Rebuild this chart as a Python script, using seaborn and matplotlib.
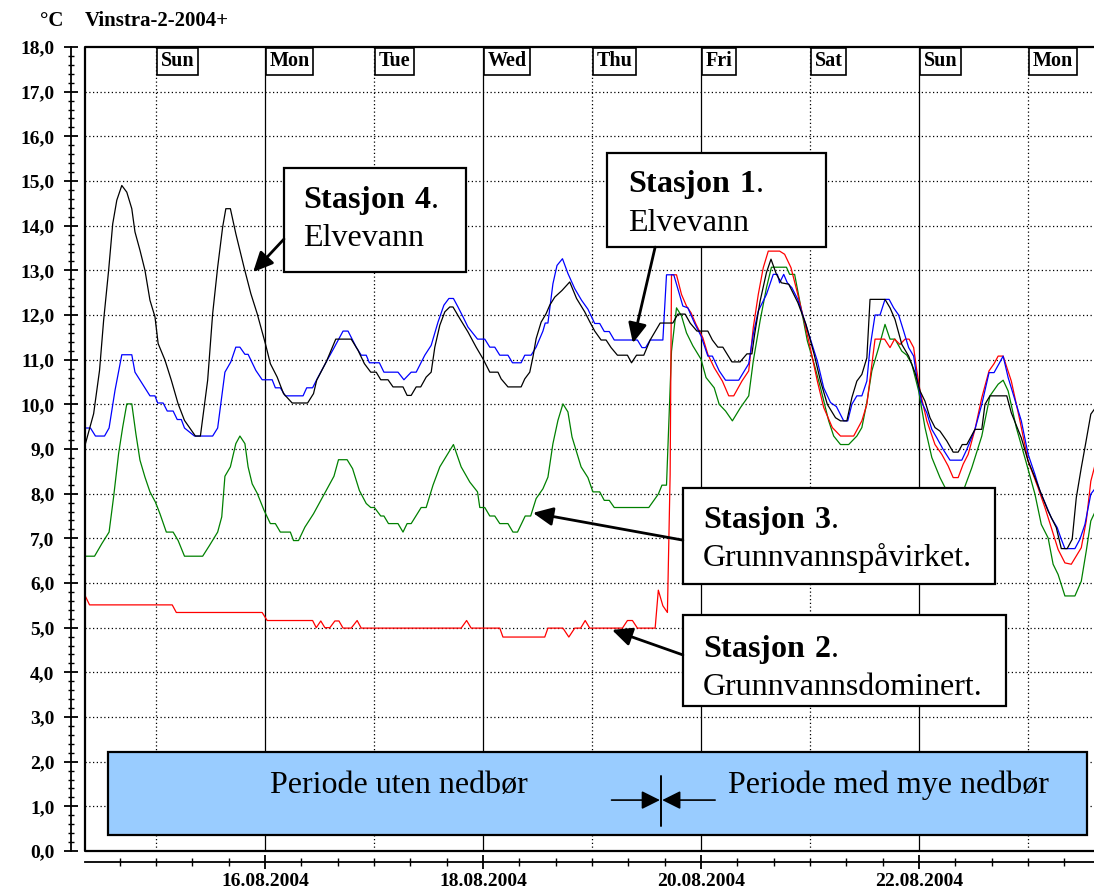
import numpy as np
import pandas as pd
import matplotlib
matplotlib.use("Agg")
import matplotlib.pyplot as plt
import matplotlib.dates as mdates
from matplotlib.ticker import MultipleLocator, FuncFormatter
from matplotlib.patches import Rectangle
import seaborn as sns

# ---------------- data (hours after 14.08.2004 00:00, temperature in degC) -------------
t_st4 = [8.5, 10.3, 11.6, 12.5, 13.6, 14.5, 15.4, 16.5, 17.6, 18.7, 19.4, 20.5, 21.6, 22.7, 23.8,
         24.5, 26.0, 27.4, 28.9, 30.3, 31.8, 32.7, 33.8, 35.4, 36.5, 37.6, 38.7, 39.4, 40.4, 41.6,
         43.4, 44.9, 46.3, 48.1, 49.2, 50.7, 52.1, 54.0, 57.4, 58.7, 59.4, 61.5, 63.6, 67.0, 68.5,
         69.9, 71.3, 72.5, 73.5, 75.1, 76.2, 78.4, 79.3, 80.2, 81.3, 82.3, 83.5, 84.6, 85.4, 86.5,
         87.6, 88.7, 89.4, 90.9, 92.7, 94.5, 96.0, 97.5, 99.3, 100.0, 101.5, 104.4, 105.2, 106.3,
         107.0, 107.7, 108.8, 109.9, 110.7, 111.8, 113.4, 115.1, 116.6, 118.4, 119.5, 120.6, 122.0,
         123.1, 124.2, 125.6, 127.8, 128.7, 129.8, 131.4, 132.8, 135.0, 137.8, 138.9, 140.5, 141.6,
         143.1, 145.5, 146.5, 147.7, 148.8, 150.8, 152.6, 154.1, 155.2, 155.8, 157.0, 158.4, 159.4,
         160.6, 161.7, 163.3, 165.3, 167.1, 168.9, 170.3, 171.8, 173.6, 174.7, 176.1, 177.2, 178.3,
         179.4, 180.5, 181.2, 184.5, 185.6, 186.7, 188.2, 189.7, 191.1, 192.2, 193.3, 194.4, 195.5,
         196.6, 198.1, 199.5, 200.6, 201.5, 202.5, 204.3, 205.8, 206.5, 207.6, 211.3, 212.3, 214.5,
         216.0, 217.5, 218.9, 220.4, 222.2, 223.3, 224.6, 225.7, 226.6, 227.7, 228.5, 229.8, 231.0]
v_st4 = [9.12, 9.79, 10.76, 11.88, 13.0, 14.04, 14.57, 14.9, 14.75, 14.38, 13.86, 13.45, 13.0, 12.33, 11.96,
         11.36, 10.99, 10.54, 10.01, 9.64, 9.42, 9.29, 9.29, 10.54, 12.03, 13.07, 13.97, 14.38, 14.38, 13.82,
         13.07, 12.48, 12.03, 11.36, 10.91, 10.61, 10.24, 10.03, 10.03, 10.24, 10.54, 10.95, 11.46, 11.46, 11.21,
         10.91, 10.72, 10.72, 10.55, 10.55, 10.39, 10.39, 10.20, 10.20, 10.39, 10.39, 10.61, 10.72, 11.28, 11.77,
         12.07, 12.18, 12.18, 11.92, 11.62, 11.28, 11.02, 10.72, 10.72, 10.57, 10.39, 10.39, 10.57, 10.72,
         11.06, 11.47, 11.84, 12.03, 12.22, 12.40, 12.55, 12.74, 12.37, 12.07, 11.85, 11.64, 11.44,
         11.44, 11.27, 11.10, 11.10, 10.93, 11.10, 11.10, 11.44, 11.82, 11.82, 12.02, 12.02, 11.82,
         11.64, 11.64, 11.44, 11.28, 11.28, 10.95, 10.95, 11.13, 11.13, 11.57, 12.31, 12.95, 13.25,
         12.91, 12.72, 12.69, 12.28, 11.79, 11.12, 10.52, 10.0, 9.70, 9.63, 9.63, 10.15, 10.52,
         10.67, 11.04, 12.35, 12.35, 12.16, 11.90, 11.34, 11.08, 10.71, 10.30, 10.07, 9.70, 9.48,
         9.40, 9.18, 8.93, 8.93, 9.10, 9.10, 9.44, 9.44, 10.0, 10.19, 10.19, 9.81, 9.25,
         8.73, 8.36, 7.99, 7.61, 7.24, 6.77, 6.77, 6.98, 7.91, 8.58, 9.03, 9.78, 9.95]

t_st1 = [8.5, 9.6, 10.7, 12.7, 13.7, 15.0, 16.5, 18.7, 19.4, 21.2, 22.7, 23.8, 24.4, 25.6, 26.5,
         27.8, 28.7, 29.6, 30.3, 32.5, 36.5, 37.6, 39.2, 40.5, 41.6, 42.5, 43.6, 44.3, 46.0, 47.4,
         49.6, 50.3, 51.4, 52.5, 56.4, 57.2, 58.5, 59.4, 61.5, 63.3, 65.2, 66.3, 68.1, 69.2, 70.3,
         71.0, 73.2, 74.2, 77.3, 78.6, 80.2, 81.3, 83.2, 84.6, 86.1, 87.4, 88.5, 89.5, 90.5, 91.6,
         92.7, 94.8, 96.4, 97.5, 98.6, 99.7, 101.5, 102.5, 104.4, 105.2, 106.6, 107.7, 109.2, 109.7,
         110.3, 111.4, 112.3, 113.5, 114.7, 116.2, 117.7, 119.1, 120.6, 121.7, 122.7, 123.8, 124.9,
         130.0, 131.0, 131.8, 132.8, 135.6, 136.4, 138.0, 140.0, 141.1, 142.6, 144.0, 145.5, 146.5,
         148.0, 149.4, 152.3, 154.5, 155.5, 156.6, 158.4, 159.9, 160.8, 161.3, 162.2, 163.0, 164.0,
         165.3, 166.7, 168.2, 169.6, 171.0, 172.5, 173.8, 175.4, 176.3, 177.2, 178.3, 179.4, 180.5,
         181.2, 182.3, 183.4, 184.5, 185.4, 186.4, 187.5, 188.6, 189.7, 190.8, 191.5, 192.6, 193.7,
         194.8, 195.9, 197.3, 198.8, 201.4, 202.5, 204.3, 205.8, 207.4, 208.5, 209.6, 210.5, 211.6,
         213.4, 214.5, 216.0, 217.5, 218.6, 219.7, 221.1, 222.4, 223.3, 224.1, 226.3, 227.4, 228.5,
         229.8, 231.0]
v_st1 = [9.47, 9.47, 9.29, 9.29, 9.47, 10.31, 11.11, 11.11, 10.72, 10.43, 10.19, 10.19, 10.03, 10.03, 9.85,
         9.85, 9.66, 9.66, 9.47, 9.29, 9.29, 9.47, 10.72, 10.95, 11.28, 11.28, 11.12, 11.12, 10.76, 10.55,
         10.55, 10.37, 10.37, 10.19, 10.19, 10.37, 10.37, 10.55, 10.95, 11.28, 11.64, 11.64, 11.28, 11.10, 11.10,
         10.93, 10.93, 10.72, 10.72, 10.55, 10.72, 10.72, 11.10, 11.32, 11.84, 12.22, 12.37, 12.37, 12.18, 11.96,
         11.73, 11.46, 11.46, 11.28, 11.28, 11.10, 11.10, 10.93, 10.93, 11.10, 11.10, 11.28, 11.64, 11.82,
         11.82, 12.70, 13.11, 13.26, 12.93, 12.59, 12.33, 12.13, 11.81, 11.81, 11.63, 11.63, 11.44,
         11.44, 11.27, 11.27, 11.44, 11.44, 12.90, 12.90, 12.20, 12.16, 11.81, 11.53, 11.08, 11.08,
         10.75, 10.54, 10.54, 10.91, 11.57, 12.09, 12.46, 12.91, 12.91, 12.72, 12.91, 12.72, 12.61,
         12.35, 11.90, 11.42, 10.97, 10.37, 10.04, 9.95, 9.63, 9.63, 10.0, 10.19, 10.19, 10.52,
         11.27, 12.0, 12.0, 12.35, 12.35, 12.16, 12.0, 11.64, 11.27, 11.08, 10.60, 10.04, 9.81,
         9.44, 9.25, 8.99, 8.75, 8.75, 8.99, 9.44, 10.0, 10.71, 10.71, 10.91, 11.08, 10.60,
         10.0, 9.63, 8.88, 8.43, 8.06, 7.80, 7.46, 7.24, 6.98, 6.77, 6.77, 6.98, 7.31,
         7.99, 8.15]

t_st3 = [8.5, 10.5, 12.1, 13.7, 14.7, 15.8, 16.7, 17.6, 18.7, 19.6, 20.5, 21.6, 22.7, 23.9, 24.9,
         26.3, 27.8, 28.9, 30.3, 34.3, 35.8, 37.6, 38.5, 39.2, 40.4, 41.6, 42.5, 43.6, 44.3, 45.2,
         46.3, 47.8, 49.2, 50.3, 51.4, 53.6, 54.3, 55.4, 56.8, 58.7, 60.9, 63.2, 64.2, 66.1, 67.3,
         68.8, 70.3, 71.3, 72.1, 73.5, 74.2, 75.2, 77.3, 78.4, 79.3, 80.2, 82.4, 83.5, 85.0, 86.5,
         88.3, 89.5, 91.2, 93.1, 94.8, 95.3, 96.4, 97.5, 98.6, 99.7, 101.5, 102.6, 103.6, 105.3,
         106.5, 107.7, 109.2, 110.3, 111.4, 112.5, 113.6, 114.7, 115.6, 117.6, 119.1, 120.2, 121.7,
         122.7, 123.8, 124.9, 132.5, 134.6, 135.4, 136.4, 137.5, 138.6, 139.7, 140.8, 142.2, 144.0,
         145.1, 146.9, 148.0, 149.4, 150.9, 152.7, 154.5, 155.5, 157.0, 158.4, 159.5, 162.8, 163.5,
         164.6, 166.0, 167.4, 168.9, 170.3, 172.1, 173.2, 174.7, 176.5, 178.3, 179.4, 180.5, 181.6,
         183.1, 184.5, 185.6, 186.7, 188.2, 189.3, 190.4, 191.9, 193.3, 194.8, 196.6, 198.4, 200.0,
         201.5, 203.6, 205.8, 207.6, 209.4, 210.5, 211.6, 213.4, 215.6, 217.5, 218.9, 220.4, 221.5,
         222.6, 224.1, 226.3, 227.7, 228.8, 229.8, 231.0]
v_st3 = [6.60, 6.60, 6.88, 7.14, 7.93, 8.90, 9.49, 10.01, 10.01, 9.34, 8.75, 8.37, 8.04, 7.81, 7.55,
         7.14, 7.14, 6.95, 6.60, 6.60, 6.84, 7.14, 7.48, 8.39, 8.60, 9.12, 9.29, 9.12, 8.60, 8.22,
         8.01, 7.63, 7.33, 7.33, 7.14, 7.14, 6.95, 6.95, 7.25, 7.55, 7.96, 8.39, 8.76, 8.76, 8.56,
         8.07, 7.78, 7.69, 7.69, 7.50, 7.50, 7.33, 7.33, 7.14, 7.33, 7.33, 7.69, 7.69, 8.19, 8.60,
         8.90, 9.10, 8.60, 8.26, 8.04, 7.69, 7.69, 7.50, 7.50, 7.33, 7.33, 7.14, 7.14, 7.50,
         7.50, 7.89, 8.11, 8.37, 9.12, 9.64, 10.01, 9.83, 9.27, 8.60, 8.36, 8.04, 8.04,
         7.85, 7.85, 7.69, 7.69, 7.99, 8.19, 8.19, 11.19, 12.16, 11.98, 11.60, 11.31, 11.01,
         10.60, 10.37, 10.0, 9.85, 9.63, 9.93, 10.19, 10.97, 11.87, 12.61, 13.07, 13.07, 12.91,
         12.91, 12.16, 11.42, 10.90, 10.37, 9.63, 9.29, 9.10, 9.10, 9.29, 9.48, 10.04, 10.75,
         11.27, 11.79, 11.46, 11.46, 11.19, 11.10, 10.90, 10.30, 9.48, 8.81, 8.36, 8.0, 7.9,
         8.0, 8.58, 9.29, 10.19, 10.45, 10.54, 10.30, 9.48, 8.69, 7.99, 7.31, 7.01, 6.42,
         6.19, 5.71, 5.71, 6.04, 6.72, 7.39, 7.65]

t_st2 = [8.5, 9.4, 27.6, 28.5, 47.4, 48.5, 58.5, 59.3, 60.3, 61.2, 62.3, 63.4, 64.3, 65.2, 67.0,
         68.3, 69.2, 91.2, 92.4, 93.4, 99.7, 100.4, 109.6, 110.3, 113.6, 114.9, 116.2, 117.5, 118.5,
         119.5, 126.7, 127.8, 128.9, 130.0, 133.9, 134.6, 135.6, 136.6, 137.2, 137.5, 138.6, 139.7,
         140.8, 141.8, 142.9, 144.4, 145.5, 146.9, 148.7, 150.1, 151.2, 153.0, 154.5, 155.5, 156.6,
         157.7, 158.8, 161.3, 162.4, 163.8, 165.3, 166.7, 168.2, 169.6, 171.0, 172.9, 174.7, 177.6,
         179.4, 180.5, 182.3, 184.4, 185.6, 186.6, 187.8, 188.9, 189.8, 190.8, 191.5, 192.2, 193.7,
         195.5, 197.0, 198.4, 199.5, 200.6, 201.7, 202.8, 204.3, 205.8, 207.4, 208.5, 209.4, 210.5,
         212.3, 214.2, 216.0, 218.2, 219.7, 221.1, 222.6, 224.1, 225.5, 227.7, 228.8, 229.8, 231.0]
v_st2 = [5.70, 5.51, 5.51, 5.34, 5.34, 5.16, 5.16, 5.0, 5.15, 5.0, 5.0, 5.15, 5.15, 4.99, 4.99,
         5.16, 4.99, 4.99, 5.16, 4.99, 4.99, 4.79, 4.79, 4.99, 4.99, 4.79, 4.99, 4.99, 5.16,
         4.99, 4.99, 5.16, 5.16, 4.99, 4.99, 5.84, 5.49, 5.34, 8.43, 12.90, 12.90, 12.46,
         12.20, 12.05, 11.79, 11.49, 11.12, 10.82, 10.52, 10.19, 10.19, 10.52, 10.75, 11.72, 12.46,
         13.06, 13.43, 13.43, 13.36, 13.06, 12.46, 11.87, 11.19, 10.52, 9.93, 9.48, 9.29, 9.29,
         9.63, 10.0, 11.46, 11.46, 11.27, 11.46, 11.34, 11.46, 11.46, 11.27, 10.75, 10.30, 9.63,
         9.10, 8.88, 8.62, 8.36, 8.36, 8.66, 8.88, 9.44, 10.15, 10.75, 10.91, 11.08, 11.08,
         10.52, 9.63, 8.73, 8.13, 7.69, 7.24, 6.75, 6.45, 6.42, 6.79, 7.39, 8.28, 8.75]

stations = ["Stasjon 3", "Stasjon 2", "Stasjon 1", "Stasjon 4"]
station_colors = ["#008000", "#FF0000", "#0000FF", "#000000"]
day_numbers = [15, 16, 17, 18, 19, 20, 21, 22, 23]
day_names = ["Sun", "Mon", "Tue", "Wed", "Thu", "Fri", "Sat", "Sun", "Mon"]
y_ticks = list(range(0, 19))

base = pd.Timestamp("2004-08-14 00:00")
series = {"Stasjon 1": (t_st1, v_st1), "Stasjon 2": (t_st2, v_st2),
          "Stasjon 3": (t_st3, v_st3), "Stasjon 4": (t_st4, v_st4)}
frames = []
for name in stations:
    t, v = series[name]
    frames.append(pd.DataFrame({"tid": base + pd.to_timedelta(np.array(t), unit="h"),
                                "temp": v, "stasjon": name}))
df = pd.concat(frames, ignore_index=True)

# ---------------- style ----------------
sns.set_style("white")
plt.rcParams["font.family"] = ["Liberation Serif", "DejaVu Serif"]
plt.rcParams["mathtext.fontset"] = "custom"
plt.rcParams["mathtext.rm"] = "Liberation Serif"
plt.rcParams["mathtext.bf"] = "Liberation Serif:bold"
for k in ["text.color", "axes.edgecolor", "xtick.color", "ytick.color", "axes.labelcolor"]:
    plt.rcParams[k] = "black"

W, H = 1094, 894
fig = plt.figure(figsize=(W / 100, H / 100), dpi=100)
ax = fig.add_axes([85 / W, (H - 851) / H, 1 - 85 / W, (851 - 47) / H])


def T(h):
    return mdates.date2num(base + pd.Timedelta(hours=h))


sns.lineplot(data=df, x="tid", y="temp", hue="stasjon", hue_order=stations,
             palette=dict(zip(stations, station_colors)), estimator=None,
             linewidth=0.9, legend=False, ax=ax)
for ln in ax.lines:
    ln.set_zorder(3)

ax.set_xlim(T(8.4), T(230.5))
ax.set_ylim(0, 18)
ax.set_xlabel("")
ax.set_ylabel("")

# grid
for v in y_ticks[1:-1]:
    ax.axhline(v, color="black", lw=0.9, ls=(0, (1, 2)), zorder=1)
for d in day_numbers:
    ax.axvline(pd.Timestamp(2004, 8, d), color="black", lw=0.9,
               ls="-" if d % 2 == 0 else (0, (1, 2)), zorder=1)

# frame (left, top, bottom) + offset axis spines
ax.plot([1, 0, 0, 1], [1, 1, 0, 0], transform=ax.transAxes, color="black", lw=1.6,
        clip_on=False, zorder=6)
for s in ["top", "right"]:
    ax.spines[s].set_visible(False)
ax.spines["left"].set_position(("outward", 10))
ax.spines["bottom"].set_position(("outward", 8))
ax.spines["left"].set_linewidth(1.3)
ax.spines["bottom"].set_linewidth(1.3)

ax.yaxis.set_major_locator(MultipleLocator(1))
ax.yaxis.set_minor_locator(MultipleLocator(0.2))
ax.yaxis.set_major_formatter(FuncFormatter(lambda v, p: f"{v:.1f}".replace(".", ",")))
ax.xaxis.set_major_locator(mdates.DayLocator(bymonthday=[16, 18, 20, 22]))
ax.xaxis.set_minor_locator(mdates.HourLocator(byhour=[0, 8, 16]))
ax.xaxis.set_major_formatter(mdates.DateFormatter("%d.%m.%Y"))

ax.tick_params(axis="y", which="major", direction="inout", length=10, width=1.3,
               labelsize=14, pad=7, left=True)
ax.tick_params(axis="y", which="minor", direction="inout", length=5, width=1.0, left=True)
ax.tick_params(axis="x", which="major", direction="inout", length=10, width=1.3,
               labelsize=14, pad=2.5, bottom=True)
ax.tick_params(axis="x", which="minor", direction="inout", length=6, width=1.0, bottom=True)

# day boxes at the top
for d, name in zip(day_numbers, day_names):
    ax.annotate(name, xy=(pd.Timestamp(2004, 8, d), 1), xycoords=("data", "axes fraction"),
                xytext=(3.4, -3.2), textcoords="offset points", ha="left", va="top",
                fontsize=14.5, fontweight="bold", zorder=7, annotation_clip=False,
                bbox=dict(boxstyle="square,pad=0.18", fc="white", ec="black", lw=1.2))

# title
fig.text(40 / W, 1 - 21 / H, "°C", fontsize=15, fontweight="bold", va="center", ha="left")
fig.text(85 / W, 1 - 21 / H, "Vinstra-2-2004+", fontsize=15, fontweight="bold",
         va="center", ha="left")

# annotation boxes
box_kw = dict(fc="white", ec="black", lw=1.6, zorder=8)
arrow_kw = dict(arrowstyle="-|>,head_length=0.6,head_width=0.28", color="black", lw=2.0,
                mutation_scale=20, shrinkA=0, shrinkB=0)
boxes = [
    # (h0, h1, v0, v1, text x, baseline1, baseline2, title, subtitle, tail, tip)
    (52.2, 92.3, 12.96, 15.29, 56.4, 14.39, 13.54, "Stasjon\\ 4", "Elvevann", (52.2, 13.7), (45.4, 12.96)),
    (123.3, 171.5, 13.52, 15.63, 127.9, 14.75, 13.88, "Stasjon\\ 1", "Elvevann", (133.9, 13.52), (129.0, 11.37)),
    (140.0, 208.7, 5.98, 8.13, 144.4, 7.23, 6.38, "Stasjon\\ 3", "Grunnvannspåvirket.", (140.0, 6.96), (107.0, 7.57)),
    (140.0, 211.2, 3.25, 5.28, 144.4, 4.34, 3.49, "Stasjon\\ 2", "Grunnvannsdominert.", (140.0, 4.39), (124.4, 4.95)),
]
for h0, h1, v0, v1, tx, b1, b2, title, sub, tail, tip in boxes:
    ax.add_patch(Rectangle((T(h0), v0), T(h1) - T(h0), v1 - v0, **box_kw))
    ax.text(T(tx), b1, "$\\mathbf{" + title + "}$.", fontsize=23, va="baseline", ha="left", zorder=9)
    ax.text(T(tx), b2, sub, fontsize=23, va="baseline", ha="left", zorder=9)
    ax.annotate("", xy=(T(tip[0]), tip[1]), xytext=(T(tail[0]), tail[1]),
                arrowprops=arrow_kw, zorder=9)

# period box
ax.add_patch(Rectangle((T(13.4), 0.36), T(229.0) - T(13.4), 2.22 - 0.36,
                       fc="#99CCFF", ec="black", lw=1.6, zorder=8))
ax.text(T(49.1), 1.30, "Periode uten nedbør", fontsize=23, va="baseline", ha="left", zorder=9)
ax.text(T(149.9), 1.30, "Periode med mye nedbør", fontsize=23, va="baseline", ha="left", zorder=9)
ax.plot([T(135.2), T(135.2)], [0.56, 1.68], color="black", lw=1.4, zorder=9)
small_arrow = dict(arrowstyle="-|>,head_length=0.7,head_width=0.35", color="black", lw=1.2,
                   mutation_scale=16, shrinkA=0, shrinkB=0)
ax.annotate("", xy=(T(134.95), 1.14), xytext=(T(124.3), 1.14), arrowprops=small_arrow, zorder=9)
ax.annotate("", xy=(T(135.45), 1.14), xytext=(T(147.1), 1.14), arrowprops=small_arrow, zorder=9)

fig.canvas.draw()
for lbl in ax.get_xticklabels() + ax.get_yticklabels():
    lbl.set_fontweight("bold")

fig.savefig("out.png", dpi=100)
